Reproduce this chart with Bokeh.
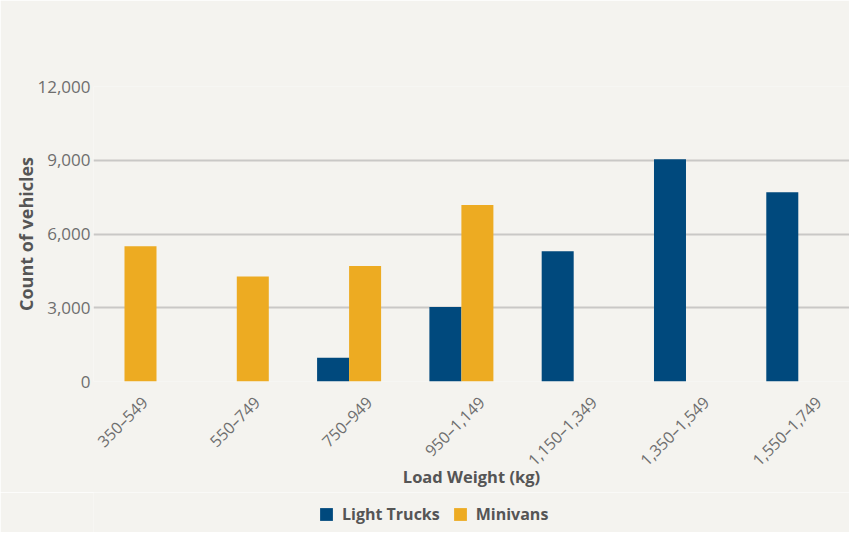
import math
from bokeh.plotting import figure
from bokeh.layouts import column
from bokeh.models import (Range1d, NumeralTickFormatter, FixedTicker,
                          ColumnDataSource, Legend, LegendItem)
from bokeh.transform import dodge
from bokeh.embed import file_html
from bokeh.resources import INLINE

nan = float("nan")

categories = ["350–549", "550–749", "750–949", "950–1,149",
              "1,150–1,349", "1,350–1,549", "1,550–1,749"]
light_trucks = [nan, nan, 970, 3030, 5300, 9040, 7700]
minivans = [5500, 4270, 4700, 7180, nan, nan, nan]
y_ticks = [0, 3000, 6000, 9000, 12000]
series_names = ["Light Trucks", "Minivans"]
series_colors = ["#00497d", "#edab22"]

BG = "#f4f3ef"
FONT = "Open Sans"
TXT = "#555555"
TICK = "#6e6e6e"
LEFT = 93

positions = list(range(len(categories)))
src = ColumnDataSource(dict(x=positions, cat=categories, lt=light_trucks, mv=minivans))

p = figure(frame_width=756, frame_height=295, output_backend="svg", toolbar_location=None,
           x_range=Range1d(-0.276, 6.456), y_range=Range1d(0, 12000),
           min_border_left=LEFT, min_border_right=0, min_border_top=86,
           min_border_bottom=111)
p.background_fill_color = BG
p.border_fill_color = BG
p.outline_line_color = None

bw = 0.285
r_lt = p.vbar(x=dodge("x", -bw / 2, range=p.x_range), top="lt", width=bw, bottom=0,
              source=src, fill_color=series_colors[0], line_color=None)
r_mv = p.vbar(x=dodge("x", bw / 2, range=p.x_range), top="mv", width=bw, bottom=0,
              source=src, fill_color=series_colors[1], line_color=None)

# grid
p.xgrid.grid_line_color = None
p.ygrid.grid_line_color = "#c9c8c6"
p.ygrid.grid_line_width = 2

# y axis
p.yaxis.ticker = FixedTicker(ticks=y_ticks)
p.yaxis.formatter = NumeralTickFormatter(format="0,0")
p.yaxis.axis_line_color = None
p.yaxis.major_tick_line_color = None
p.yaxis.minor_tick_line_color = None
p.yaxis.major_tick_out = 0
p.yaxis.major_label_standoff = 3
p.yaxis.major_label_text_font = FONT
p.yaxis.major_label_text_font_size = "17px"
p.yaxis.major_label_text_color = TICK
p.yaxis.axis_label = "Count of vehicles"
p.yaxis.axis_label_text_font = FONT
p.yaxis.axis_label_text_font_style = "bold"
p.yaxis.axis_label_text_font_size = "18px"
p.yaxis.axis_label_text_color = TXT
p.yaxis.axis_label_standoff = -4

# x axis: rotated category labels, anchored slightly right of each group centre
label_shift = 0.18
tick_pos = [i + label_shift for i in positions]
p.xaxis.ticker = FixedTicker(ticks=tick_pos)
p.xaxis.major_label_overrides = {t: c for t, c in zip(tick_pos, categories)}
p.xaxis.major_label_orientation = math.pi / 4
p.xaxis.axis_line_color = None
p.xaxis.major_tick_line_color = None
p.xaxis.minor_tick_line_color = None
p.xaxis.major_tick_out = 0
p.xaxis.major_label_standoff = 18
p.xaxis.major_label_text_font = FONT
p.xaxis.major_label_text_font_size = "16px"
p.xaxis.major_label_text_color = TICK
p.xaxis.axis_label = "Load Weight (kg)"
p.xaxis.axis_label_text_font = FONT
p.xaxis.axis_label_text_font_style = "bold"
p.xaxis.axis_label_text_font_size = "16.5px"
p.xaxis.axis_label_text_color = TXT
p.xaxis.axis_label_standoff = -16

# legend strip below the chart (frame aligned with the chart's frame)
lg = figure(frame_width=756, height=40, output_backend="svg", toolbar_location=None,
            x_range=Range1d(0, 1), y_range=Range1d(0, 1),
            min_border_left=LEFT, min_border_right=0, min_border_top=0, min_border_bottom=0)
lg.background_fill_color = BG
lg.border_fill_color = BG
lg.outline_line_color = None
lg.axis.visible = False
lg.grid.visible = False
k_lt = lg.vbar(x=[nan], top=[nan], width=0.1, fill_color=series_colors[0], line_color=None)
k_mv = lg.vbar(x=[nan], top=[nan], width=0.1, fill_color=series_colors[1], line_color=None)

legend = Legend(items=[LegendItem(label=series_names[0], renderers=[k_lt]),
                       LegendItem(label=series_names[1], renderers=[k_mv])],
                orientation="horizontal", location=(225, 7))
legend.background_fill_alpha = 0
legend.border_line_color = None
legend.label_text_font = FONT
legend.label_text_font_style = "bold"
legend.label_text_font_size = "16px"
legend.label_text_color = TXT
legend.glyph_width = 16
legend.glyph_height = 16
legend.label_height = 16
legend.spacing = 12
legend.label_standoff = 8
legend.margin = 0
legend.padding = 6
lg.add_layout(legend, "center")

layout = column(p, lg, spacing=0)
open("out.html", "w").write(file_html(layout, INLINE))
